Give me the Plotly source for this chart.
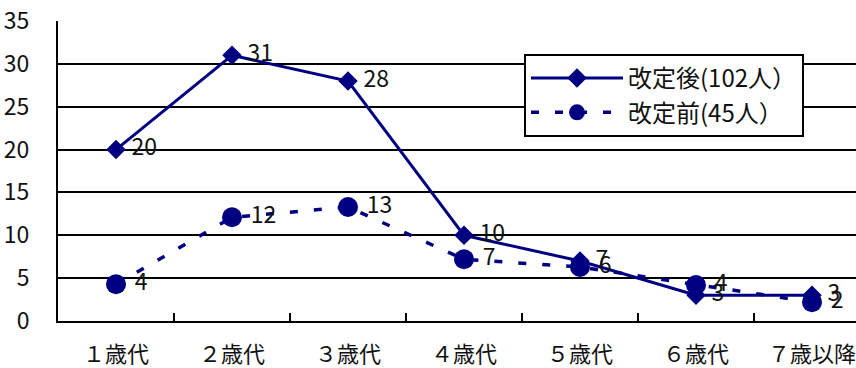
import plotly.graph_objects as go

categories = ["１歳代", "２歳代", "３歳代", "４歳代", "５歳代", "６歳代", "７歳以降"]
after_name = "改定後(102人）"
after_values = [20, 31, 28, 10, 7, 3, 3]
before_name = "改定前(45人）"
before_values = [4.3, 12.1, 13.3, 7.2, 6.3, 4.2, 2.2]
y_ticks = [0, 5, 10, 15, 20, 25, 30, 35]

navy = "#000080"
font_family = "Noto Sans CJK JP, Noto Sans, sans-serif"
txt_color = "#111"

fig = go.Figure()
fig.add_trace(go.Scatter(
    x=categories, y=after_values, name=after_name,
    mode="lines+markers+text", legendgroup="a",
    line=dict(color=navy, width=3),
    marker=dict(symbol="diamond", size=15, color=navy),
    text=["\u00a0" + f"{v:.0f}" for v in after_values],
    textposition="middle right",
    textfont=dict(size=23, color=txt_color, family=font_family),
))
fig.add_trace(go.Scatter(
    x=categories, y=before_values, name=before_name,
    mode="lines+markers+text", legendgroup="b",
    line=dict(color=navy, width=3.5, dash="8px,16px"),
    marker=dict(symbol="circle", size=20, color=navy),
    text=["\u00a0" + f"{v:.0f}" for v in before_values],
    textposition="middle right",
    textfont=dict(size=23, color=txt_color, family=font_family),
))

plot_left = 58
plot_w = 856 - plot_left
cat_w = 116
fig.update_layout(
    width=856, height=368,
    margin=dict(l=plot_left, r=0, t=21, b=47, autoexpand=False),
    paper_bgcolor="white", plot_bgcolor="white",
    font=dict(family=font_family, size=23, color=txt_color),
    showlegend=True,
    legend=dict(
        x=(524 - plot_left) / plot_w, y=(321 - 54) / 300,
        xanchor="left", yanchor="top",
        bordercolor="black", borderwidth=2, bgcolor="white",
        font=dict(size=24, family=font_family, color=txt_color),
        itemwidth=92, tracegroupgap=0,
    ),
    xaxis=dict(
        type="category", automargin=False,
        range=[-0.5, -0.5 + plot_w / cat_w],
        showline=True, linecolor="black", linewidth=2,
        showgrid=False,
        tickson="boundaries", ticks="inside", ticklen=8, tickwidth=2, tickcolor="black",
        tickfont=dict(size=22, family=font_family, color=txt_color),
        ticklabelstandoff=13,
    ),
    yaxis=dict(
        range=[0, 35], tickvals=y_ticks, automargin=False,
        showline=True, linecolor="black", linewidth=2,
        showgrid=True, gridcolor="black", gridwidth=1.8,
        zeroline=False,
        ticks="", ticklabelstandoff=22,
        tickfont=dict(size=23, family=font_family, color=txt_color),
    ),
)

fig.write_html("out.html")
